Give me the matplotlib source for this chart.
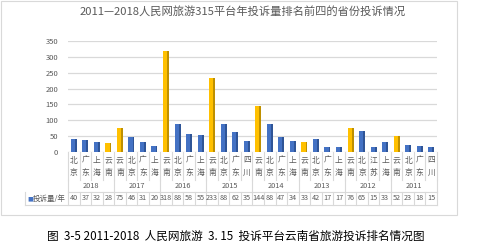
import matplotlib
matplotlib.use("Agg")
import matplotlib.pyplot as plt
from matplotlib.patches import Rectangle
from matplotlib.lines import Line2D
import matplotlib.transforms as mtransforms

plt.rcParams['font.family'] = ['Noto Sans CJK SC', 'DejaVu Sans']

years = ['2018', '2017', '2016', '2015', '2014', '2013', '2012', '2011']
cities = [
    ['北京', '广东', '上海', '云南'],
    ['云南', '北京', '广东', '上海'],
    ['云南', '北京', '广东', '上海'],
    ['云南', '北京', '广东', '四川'],
    ['云南', '北京', '广东', '上海'],
    ['云南', '北京', '广东', '上海'],
    ['云南', '北京', '江苏', '上海'],
    ['云南', '北京', '广东', '四川'],
]
values = [
    [40, 37, 32, 28],
    [75, 46, 31, 20],
    [318, 88, 58, 55],
    [233, 88, 62, 35],
    [144, 88, 47, 34],
    [33, 42, 17, 17],
    [76, 65, 15, 33],
    [52, 23, 18, 15],
]
series_name = '投诉量/年'
title = '2011—2018人民网旅游315平台年投诉量排名前四的省份投诉情况'
caption = '图  3-5 2011-2018  人民网旅游  3. 15  投诉平台云南省旅游投诉排名情况图'

W, H = 504, 246
fig = plt.figure(figsize=(W / 100, H / 100), dpi=100)

def fx(px):
    return px / W

def fy(py):
    return 1 - py / H

# outer chart border
fig.patches.append(Rectangle((fx(1), fy(215)), fx(456), 214 / H, transform=fig.transFigure,
                             fill=False, edgecolor='#D9D9D9', linewidth=0.8))

ax_l, ax_r, ax_t, ax_b = 68, 437, 41, 152
ax = fig.add_axes([fx(ax_l), fy(ax_b), fx(ax_r - ax_l), (ax_b - ax_t) / H])

flat_city = [c for grp in cities for c in grp]
flat_val = [v for grp in values for v in grp]
n = len(flat_val)
xs = list(range(n))

blue, blue_d = '#4472C4', '#2F5597'
yel, yel_d = '#FFC000', '#BF9000'
bw = 0.52
for x, c, v in zip(xs, flat_city, flat_val):
    col, dcol = (yel, yel_d) if c == '云南' else (blue, blue_d)
    ax.bar(x, v, width=bw, color=col, zorder=3)
    ax.bar(x + bw / 2 - 0.08, v, width=0.16, color=dcol, zorder=4)

ax.set_xlim(-0.5, n - 0.5)
ax.set_ylim(0, 350)
ax.set_yticks(range(0, 351, 50))
ax.tick_params(axis='y', length=0, labelsize=5.5, labelcolor='#595959', pad=7)
ax.set_xticks([])
for s in ax.spines.values():
    s.set_visible(False)
ax.grid(axis='y', color='#D9D9D9', linewidth=0.9, zorder=0)
ax.set_axisbelow(True)
ax.patch.set_alpha(0)

# table below axes
trans = mtransforms.blended_transform_factory(ax.transData, fig.transFigure)
lc = '#D9D9D9'
tc = '#595959'
row_city_top, row_city_bot = 152, 180
row_year_bot = 192
row_data_bot = 205

def vline(xd, y0, y1):
    fig.add_artist(Line2D([xd, xd], [fy(y0), fy(y1)], transform=trans, color=lc, linewidth=0.8))

def hline_fig(x0px, x1px, ypx):
    fig.add_artist(Line2D([fx(x0px), fx(x1px)], [fy(ypx), fy(ypx)], transform=fig.transFigure,
                          color=lc, linewidth=0.8))

for i in range(n + 1):
    xd = i - 0.5
    vline(xd, row_city_top, row_city_bot)
    vline(xd, row_year_bot, row_data_bot)
for g in range(len(years) + 1):
    vline(g * 4 - 0.5, row_city_bot, row_year_bot)

hline_fig(ax_l, ax_r, row_year_bot)
hline_fig(25, ax_r, row_data_bot)
fig.add_artist(Line2D([fx(25), fx(25)], [fy(row_year_bot), fy(row_data_bot)],
                      transform=fig.transFigure, color=lc, linewidth=0.8))

for x, c, v in zip(xs, flat_city, flat_val):
    fig.text(x, fy(161), c[0], transform=trans, ha='center', va='center', fontsize=5.6, color=tc)
    fig.text(x, fy(172.5), c[1], transform=trans, ha='center', va='center', fontsize=5.6, color=tc)
    fig.text(x, fy((row_year_bot + row_data_bot) / 2), str(v), transform=trans,
             ha='center', va='center', fontsize=5.2, color=tc)

for g, yr in enumerate(years):
    fig.text(g * 4 + 1.5, fy((row_city_bot + row_year_bot) / 2), yr, transform=trans,
             ha='center', va='center', fontsize=5.3, color=tc)

# legend cell
fig.text(fx(27.5), fy((row_year_bot + row_data_bot) / 2), '■', ha='left', va='center',
         fontsize=4.5, color=blue, family=['DejaVu Sans'])
fig.text(fx(33), fy((row_year_bot + row_data_bot) / 2), series_name, ha='left', va='center',
         fontsize=5.4, color=tc)

fig.text(fx(243), fy(11), title, ha='center', va='center', fontsize=8.1, color='#595959')
fig.text(fx(236), fy(236), caption, ha='center', va='center', fontsize=8.4, color='black')

fig.savefig('out.png', dpi=100)
